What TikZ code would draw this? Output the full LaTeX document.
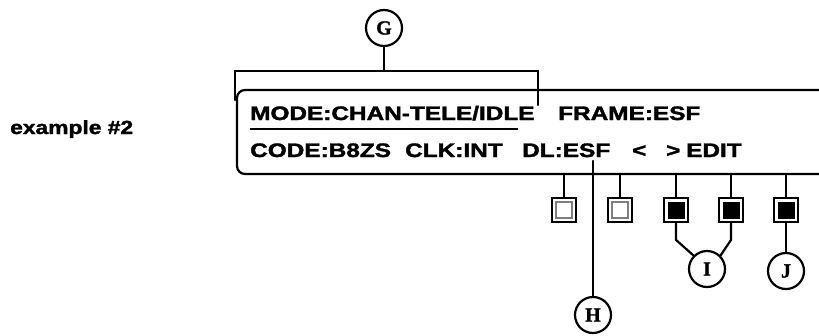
\documentclass[tikz,border=0pt]{standalone}
\usepackage{fontspec}
\newfontfamily\dispfont{Liberation Sans}[BoldFeatures={FakeBold=1.6}]
\newfontfamily\lblfont{Liberation Serif}[BoldFeatures={FakeBold=1.4}]
\begin{document}
\begin{tikzpicture}[x=1pt,y=-1pt,
  ln/.style={line width=2.2pt,line cap=round},
  circ/.style={circle,draw,line width=2.2pt,minimum size=36pt,inner sep=0pt,font=\lblfont\bfseries\fontsize{20}{20}\selectfont},
  dtxt/.style={anchor=base west,inner sep=0pt,font=\dispfont\bfseries\fontsize{19.5}{20}\selectfont},
  sqo/.style={draw,line width=1.8pt,fill=white,minimum size=24pt,inner sep=0pt},
  sqwi/.style={draw=gray,line width=1.2pt,minimum size=16pt,inner sep=0pt},
  sqbi/.style={fill=black,minimum size=17pt,inner sep=0pt}]
\useasboundingbox (0,0) rectangle (819,335);
% label
\node[dtxt,font=\dispfont\bfseries\fontsize{19}{20}\selectfont] (ex) at (10,134) {\scalebox{1.2}[1]{example \#2}};
% display box
\draw[ln,rounded corners=8pt] (819,90) -- (237,90) -- (237,174) -- (819,174);
\coordinate (boxb) at (300,174);
% texts
\node[dtxt] (mode) at (250,120) {\scalebox{1.25}[1]{MODE:CHAN-TELE/IDLE}};
\node[dtxt] (frame) at (558,120) {\scalebox{1.25}[1]{FRAME:ESF}};
\node[dtxt] (code) at (250,157) {\scalebox{1.25}[1]{CODE:B8ZS}};
\node[dtxt] (clk) at (405,157) {\scalebox{1.25}[1]{CLK:INT}};
\node[dtxt] (dl) at (522,157) {\scalebox{1.25}[1]{DL:ESF}};
\node[dtxt] (lt) at (632,157) {\scalebox{1.25}[1]{<}};
\node[dtxt] (gt) at (666,157) {\scalebox{1.25}[1]{>}};
\node[dtxt] (edit) at (686,157) {\scalebox{1.25}[1]{EDIT}};
\coordinate (ul1) at (250,129);
\coordinate (ul2) at (518,129);
\draw[line width=1.8pt] (ul1) -- (ul2);
% bracket G
\node[circ] (G) at (384,28) {G};
\coordinate (bl) at (235,100);
\coordinate (btl) at (235,71);
\coordinate (btr) at (538,71);
\coordinate (br) at (538,105);
\coordinate (bt) at (384,71);
\draw[ln] (bl) -- (btl) -- (btr) -- (br);
\draw[ln] (G.south) -- (bt);
% H
\node[circ] (H) at (593,315) {H};
\coordinate (htop) at (593,161);
\draw[ln] (htop) -- (H.north);
% squares
\node[sqo] (s1) at (564,210) {};
\node[sqwi] (s1i) at (s1) {};
\node[sqo] (s2) at (620,210) {};
\node[sqwi] (s2i) at (s2) {};
\node[sqo] (s3) at (676,210) {};
\node[sqbi] (s3i) at (s3) {};
\node[sqo] (s4) at (731,210) {};
\node[sqbi] (s4i) at (s4) {};
\node[sqo] (s5) at (786,210) {};
\node[sqbi] (s5i) at (s5) {};
\foreach \s in {s1,s2,s3,s4,s5} {\draw[ln] (\s.north) -- (\s.north |- boxb);}
% I and J
\node[circ] (I) at (707,269) {I};
\node[circ] (J) at (786,271) {J};
\draw[ln] (s3.south) -- ++(0,17) -- (I.135);
\draw[ln] (s4.south) -- ++(0,17) -- (I.45);
\draw[ln] (s5.south) -- (J.north);
\end{tikzpicture}
\end{document}
